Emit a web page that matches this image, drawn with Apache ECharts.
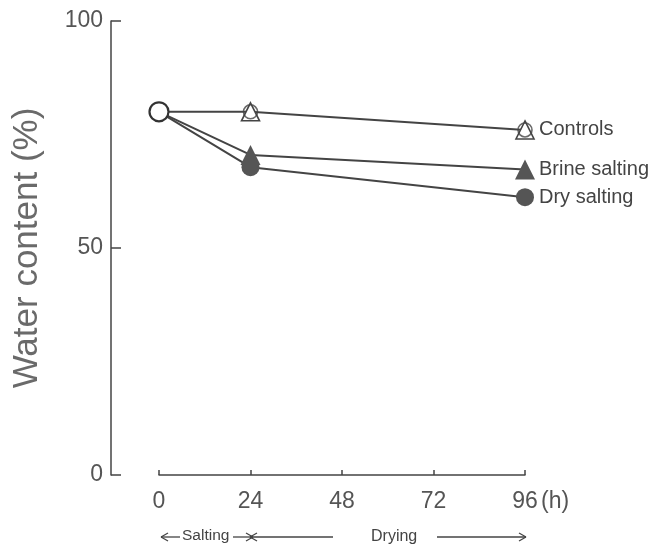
<!DOCTYPE html>
<html>
<head>
<meta charset="utf-8">
<script src="https://cdn.jsdelivr.net/npm/echarts@6/dist/echarts.min.js"></script>
<style>html,body{margin:0;padding:0;background:#fff}#c{width:663px;height:551px}</style>
</head>
<body>
<div id="c"></div>
<script>
const hours = [0, 24, 96];
const controls = [80, 80, 76];
const brine = [80, 70.5, 67.3];
const dry = [80, 67.8, 61.2];
const seriesNames = ['Controls', 'Brine salting', 'Dry salting'];
const xTicks = [0, 24, 48, 72, 96];
const yTicks = [0, 50, 100];
const yTitle = 'Water content (%)';
const xUnit = '(h)';
const phaseLabels = ['Salting', 'Drying'];

const FONT = 'Liberation Sans, Arial, sans-serif';
const INK = '#444';

function pts(vals, skipFirst) {
  return hours.map((h, i) => ({
    value: [h, vals[i]],
    symbol: (skipFirst && i === 0) ? 'none' : undefined
  }));
}

const endLbl = (name) => ({show: true, formatter: name, fontFamily: FONT, fontSize: 20, color: INK, distance: 14});

const chart = echarts.init(document.getElementById('c'), null, {renderer: 'canvas'});
const series = [
  {
    name: seriesNames[2], type: 'line', data: pts(dry, true),
    symbol: 'circle', symbolSize: 18,
    lineStyle: {color: INK, width: 2}, itemStyle: {color: '#555'},
    endLabel: endLbl(seriesNames[2]), z: 2
  },
  {
    name: seriesNames[1], type: 'line', data: pts(brine, true),
    symbol: 'triangle', symbolSize: 20,
    lineStyle: {color: INK, width: 2}, itemStyle: {color: '#555'},
    endLabel: endLbl(seriesNames[1]), z: 3
  },
  {
    name: seriesNames[0], type: 'line', data: pts(controls, true),
    symbol: 'triangle', symbolSize: 18,
    lineStyle: {color: INK, width: 2}, itemStyle: {color: '#fff', borderColor: INK, borderWidth: 1.6},
    endLabel: endLbl(seriesNames[0]), z: 4
  },
  {
    name: 'ctrlCircle', type: 'scatter',
    data: hours.slice(1).map((h, i) => [h, controls[i + 1]]),
    symbol: 'circle', symbolSize: 14,
    itemStyle: {color: 'rgba(255,255,255,0)', borderColor: INK, borderWidth: 1.6}, z: 5
  },
  {
    name: 'start', type: 'scatter',
    data: [[hours[0], controls[0]]],
    symbol: 'circle', symbolSize: 19,
    itemStyle: {color: '#fff', borderColor: '#333', borderWidth: 2.2, opacity: 1}, z: 6
  }
];

function arrowLine(x1, x2, y, headAt) {
  const d = headAt === 'left' ? 1 : -1;
  const hx = headAt === 'left' ? x1 : x2;
  const st = {stroke: INK, lineWidth: 1.3};
  return [
    {type: 'line', shape: {x1: x1, y1: y, x2: x2, y2: y}, style: st},
    {type: 'line', shape: {x1: hx, y1: y, x2: hx + 7 * d, y2: y - 4}, style: st},
    {type: 'line', shape: {x1: hx, y1: y, x2: hx + 7 * d, y2: y + 4}, style: st}
  ];
}

const graphics = [].concat(
  arrowLine(161, 180, 537, 'left'),
  arrowLine(233, 253, 537, 'right'),
  arrowLine(250, 333, 537, 'left'),
  arrowLine(437, 526, 537, 'right'),
  [
    {type: 'text', left: 182, top: 528, style: {text: phaseLabels[0], font: '15.5px ' + FONT, fill: INK}},
    {type: 'text', left: 371, top: 529, style: {text: phaseLabels[1], font: '16px ' + FONT, fill: INK}},
    {type: 'text', left: 541, top: 490, style: {text: xUnit, font: '23px ' + FONT, fill: '#555'}}
  ]
);

chart.setOption({
  animation: false,
  backgroundColor: '#fff',
  grid: {left: 159, top: 21, width: 366, height: 454},
  xAxis: {
    type: 'value', min: xTicks[0], max: xTicks[xTicks.length - 1], interval: 24,
    axisLine: {show: true, onZero: false, lineStyle: {color: INK, width: 1.5}},
    axisTick: {show: true, inside: true, length: 5, lineStyle: {color: INK, width: 1.5}},
    axisLabel: {fontFamily: FONT, fontSize: 23, color: '#555', margin: 15},
    splitLine: {show: false}
  },
  yAxis: {
    type: 'value', min: yTicks[0], max: yTicks[yTicks.length - 1], interval: 50,
    offset: 48,
    name: yTitle, nameLocation: 'middle', nameRotate: 90, nameGap: 66,
    nameTextStyle: {fontFamily: FONT, fontSize: 35, color: '#6a6a6a'},
    axisLine: {show: true, onZero: false, lineStyle: {color: INK, width: 1.5}},
    axisTick: {show: true, inside: true, length: 10, lineStyle: {color: INK, width: 1.5}},
    axisLabel: {fontFamily: FONT, fontSize: 23, color: '#555', margin: 8},
    splitLine: {show: false}
  },
  series: series,
  graphic: graphics
});
</script>
</body>
</html>
